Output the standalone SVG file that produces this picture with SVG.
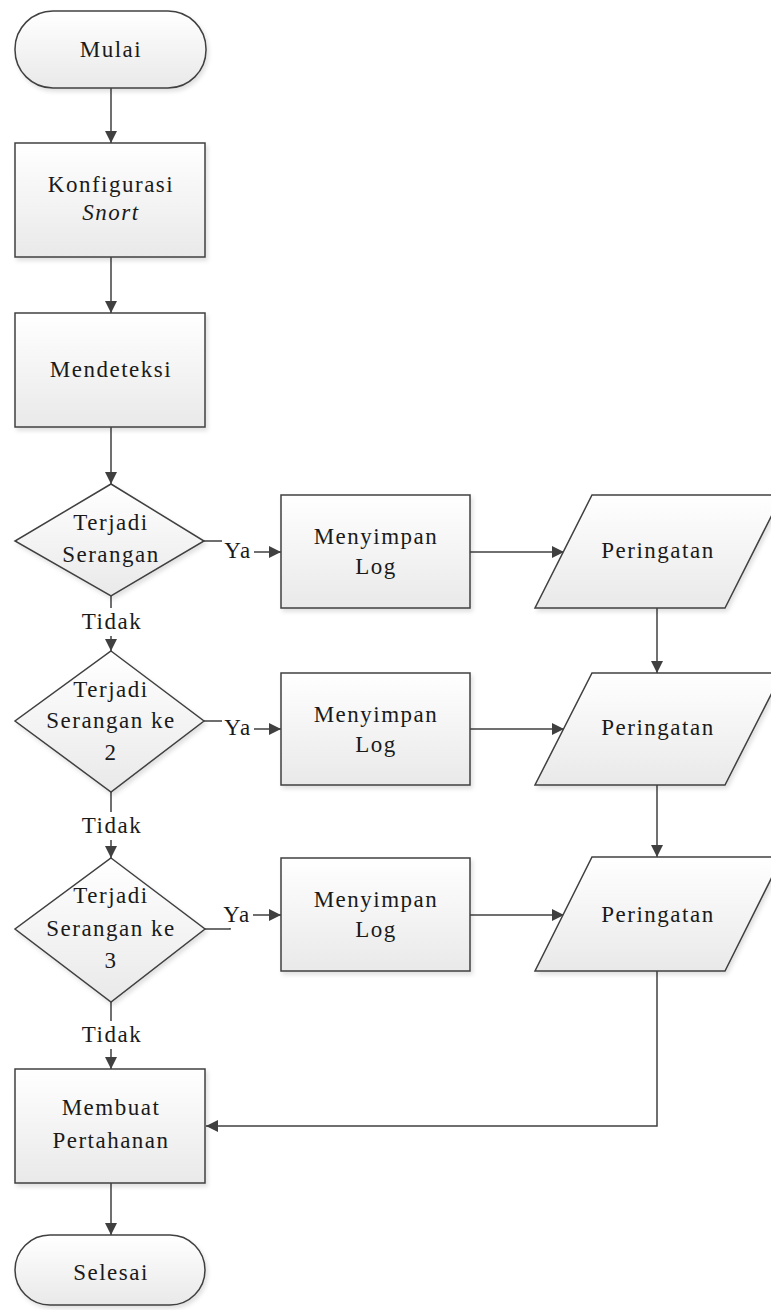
<svg xmlns="http://www.w3.org/2000/svg" width="771" height="1310" viewBox="0 0 771 1310">
<defs>
<linearGradient id="g" x1="0" y1="0" x2="0" y2="1">
<stop offset="0" stop-color="#ffffff"/>
<stop offset="1" stop-color="#e9e9e9"/>
</linearGradient>
<filter id="sh" x="-10%" y="-10%" width="125%" height="125%">
<feDropShadow dx="2" dy="3" stdDeviation="2" flood-color="#000" flood-opacity="0.12"/>
</filter>
<marker id="ah" viewBox="0 0 12 12" refX="12" refY="6" markerWidth="12" markerHeight="12" markerUnits="userSpaceOnUse" orient="auto">
<path d="M0,0 L12,6 L0,12 Z" fill="#404040"/>
</marker>
</defs>
<style>
.s{fill:url(#g);stroke:#404040;stroke-width:1.5;filter:url(#sh)}
.c{fill:none;stroke:#404040;stroke-width:1.5}
.a{marker-end:url(#ah)}
.bg{fill:#ffffff}
</style>
<rect width="771" height="1310" fill="#ffffff"/>

<g id="connectors">
<line class="c a" x1="111" y1="88" x2="111" y2="143"/>
<line class="c a" x1="111" y1="257" x2="111" y2="313"/>
<line class="c a" x1="111" y1="427" x2="111" y2="484"/>
<line class="c a" x1="111" y1="596" x2="111" y2="651"/>
<line class="c a" x1="111" y1="792" x2="111" y2="858"/>
<line class="c a" x1="111" y1="1002" x2="111" y2="1069"/>
<line class="c a" x1="111" y1="1183" x2="111" y2="1235"/>
<path class="c a" d="M204,541 H230 V552 H281"/>
<path class="c a" d="M204,721 H230 V729 H281"/>
<path class="c a" d="M205,929 H230 V915 H281"/>
<line class="c a" x1="470" y1="552" x2="564" y2="552"/>
<line class="c a" x1="470" y1="729" x2="564" y2="729"/>
<line class="c a" x1="470" y1="915" x2="564" y2="915"/>
<line class="c a" x1="657" y1="608" x2="657" y2="673"/>
<line class="c a" x1="657" y1="785" x2="657" y2="857"/>
<path class="c a" d="M657,971 V1126 H206"/>
<rect class="bg" x="222" y="538" width="32" height="26"/>
<rect class="bg" x="222" y="716" width="32" height="26"/>
<rect class="bg" x="221" y="902" width="32" height="26"/>
<rect class="bg" x="76" y="608" width="70" height="28"/>
<rect class="bg" x="76" y="812" width="70" height="28"/>
<rect class="bg" x="76" y="1021" width="70" height="28"/>
<g font-family="Liberation Serif, DejaVu Serif, serif" font-size="23" letter-spacing="1.5" fill="#1a1a1a" text-anchor="middle">
<text x="238" y="558">Ya</text>
<text x="238" y="735">Ya</text>
<text x="237" y="922">Ya</text>
<text x="112" y="629">Tidak</text>
<text x="112" y="833">Tidak</text>
<text x="112" y="1042">Tidak</text>
</g>
</g>

<g font-family="Liberation Serif, DejaVu Serif, serif" font-size="23" letter-spacing="1.5" fill="#1a1a1a" text-anchor="middle">
<g id="mulai">
<rect class="s" x="15" y="11" width="191" height="77" rx="38" ry="38"/>
<text x="111" y="57">Mulai</text>
</g>
<g id="konfigurasi">
<rect class="s" x="15" y="143" width="190" height="114"/>
<text x="111" y="192">Konfigurasi</text>
<text x="111" y="220" font-style="italic">Snort</text>
</g>
<g id="mendeteksi">
<rect class="s" x="15" y="313" width="190" height="114"/>
<text x="111" y="377">Mendeteksi</text>
</g>
<g id="decision1">
<polygon class="s" points="111,484 204,541 111,596 15,541"/>
<text x="111" y="530">Terjadi</text>
<text x="111" y="562">Serangan</text>
</g>
<g id="decision2">
<polygon class="s" points="111,651 204,721 111,792 15,721"/>
<text x="111" y="697">Terjadi</text>
<text x="111" y="728">Serangan ke</text>
<text x="111" y="760">2</text>
</g>
<g id="decision3">
<polygon class="s" points="111,858 205,929 111,1002 15,929"/>
<text x="111" y="903">Terjadi</text>
<text x="111" y="936">Serangan ke</text>
<text x="111" y="968">3</text>
</g>
<g id="log1">
<rect class="s" x="281" y="495" width="189" height="113"/>
<text x="376" y="544">Menyimpan</text>
<text x="376" y="574">Log</text>
</g>
<g id="log2">
<rect class="s" x="281" y="673" width="189" height="112"/>
<text x="376" y="722">Menyimpan</text>
<text x="376" y="752">Log</text>
</g>
<g id="log3">
<rect class="s" x="281" y="858" width="189" height="113"/>
<text x="376" y="907">Menyimpan</text>
<text x="376" y="937">Log</text>
</g>
<g id="peringatan1">
<polygon class="s" points="592,495 782,495 725,608 535,608"/>
<text x="658" y="558">Peringatan</text>
</g>
<g id="peringatan2">
<polygon class="s" points="592,673 782,673 725,785 535,785"/>
<text x="658" y="735">Peringatan</text>
</g>
<g id="peringatan3">
<polygon class="s" points="592,857 782,857 725,971 535,971"/>
<text x="658" y="922">Peringatan</text>
</g>
<g id="membuat">
<rect class="s" x="15" y="1069" width="190" height="114"/>
<text x="111" y="1115">Membuat</text>
<text x="111" y="1148">Pertahanan</text>
</g>
<g id="selesai">
<rect class="s" x="15" y="1235" width="190" height="70" rx="35" ry="35"/>
<text x="111" y="1280">Selesai</text>
</g>
</g>
</svg>
